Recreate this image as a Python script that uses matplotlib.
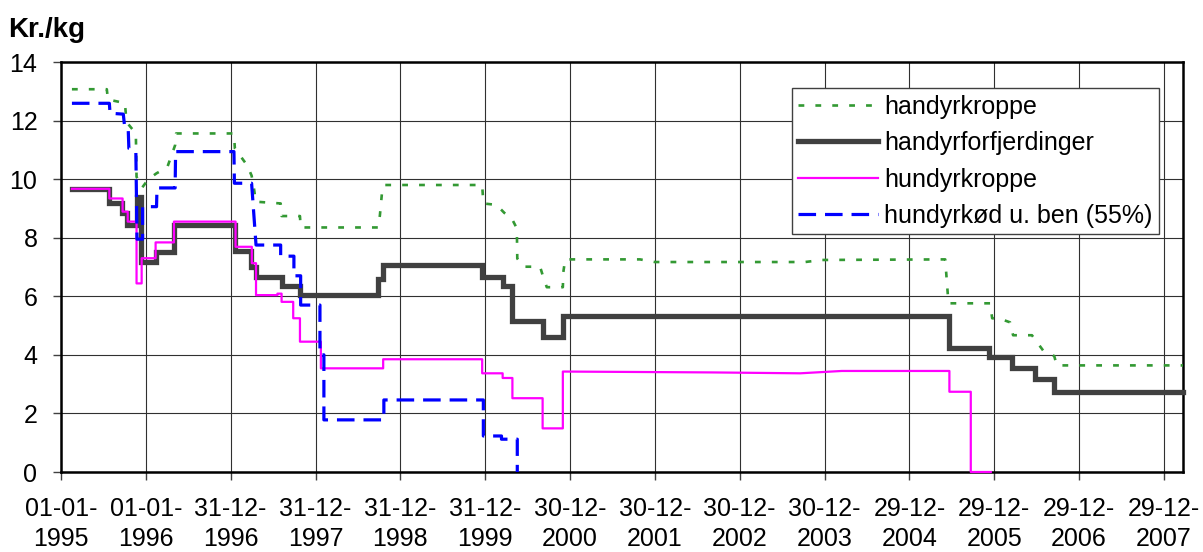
import matplotlib
matplotlib.use('Agg')
import matplotlib.pyplot as plt
import pandas as pd

plt.rcParams['font.family'] = ['Liberation Sans', 'DejaVu Sans']

# ---------------- data ----------------
series_names = ['handyrkroppe', 'handyrforfjerdinger', 'hundyrkroppe', 'hundyrkød u. ben (55%)']

handyrkroppe_dates = [
    '1995-02-17', '1995-07-17', '1995-07-22', '1995-09-19', '1995-10-03', '1995-10-07',
    '1995-10-17', '1995-11-19', '1995-11-22', '1995-12-16', '1996-01-11', '1996-02-16',
    '1996-04-02', '1996-05-06', '1996-05-10', '1997-01-14', '1997-01-18', '1997-03-12',
    '1997-03-31', '1997-04-10', '1997-04-18', '1997-08-03', '1997-08-07', '1997-10-25',
    '1997-10-28', '1998-09-27', '1998-10-04', '1998-10-14', '1998-10-21', '1999-12-18',
    '1999-12-23', '2000-02-18', '2000-03-22', '2000-04-23', '2000-05-15', '2000-05-17',
    '2000-06-12', '2000-08-23', '2000-09-06', '2000-09-21', '2000-11-29', '2000-12-01',
    '2000-12-09', '2001-10-27', '2001-12-30', '2003-10-07', '2003-12-18', '2005-06-01',
    '2005-06-15', '2005-12-11', '2005-12-20', '2006-01-31', '2006-03-07', '2006-03-20',
    '2006-06-09', '2006-07-29', '2006-09-13', '2006-09-24', '2008-03-20']
handyrkroppe_vals = [
    13.07, 13.07, 12.72, 12.62, 12.60, 12.22,
    11.88, 11.56, 10.08, 9.71, 9.99, 10.20,
    10.40, 11.16, 11.56, 11.56, 11.05, 10.47,
    10.12, 9.69, 9.23, 9.17, 8.74, 8.74,
    8.35, 8.35, 8.77, 9.63, 9.80, 9.80,
    9.17, 9.12, 8.85, 8.66, 8.32, 7.29,
    7.01, 7.01, 6.65, 6.31, 6.31, 6.82,
    7.26, 7.26, 7.17, 7.17, 7.24, 7.26,
    5.76, 5.76, 5.25, 5.21, 5.11, 4.67,
    4.67, 4.13, 3.96, 3.64, 3.64]

handyrforfj_dates = [
    '1995-02-17', '1995-07-28', '1995-07-28', '1995-09-19', '1995-09-19', '1995-10-12',
    '1995-10-12', '1995-11-22', '1995-11-22', '1995-12-12', '1995-12-12', '1996-02-14',
    '1996-02-14', '1996-05-01', '1996-05-01', '1997-01-19', '1997-01-19', '1997-03-28',
    '1997-03-28', '1997-04-19', '1997-04-19', '1997-08-07', '1997-08-07', '1997-10-25',
    '1997-10-25', '1998-09-27', '1998-09-27', '1998-10-18', '1998-10-18', '1999-12-18',
    '1999-12-18', '2000-03-15', '2000-03-15', '2000-04-26', '2000-04-26', '2000-09-03',
    '2000-09-03', '2000-11-29', '2000-11-29', '2005-06-19', '2005-06-19', '2005-12-08',
    '2005-12-08', '2006-03-15', '2006-03-15', '2006-06-23', '2006-06-23', '2006-09-10',
    '2006-09-10', '2008-03-20']
handyrforfj_vals = [
    9.65, 9.65, 9.19, 9.19, 8.83, 8.83,
    8.43, 8.43, 9.38, 9.38, 7.16, 7.16,
    7.52, 7.52, 8.42, 8.42, 7.53, 7.53,
    7.00, 7.00, 6.67, 6.67, 6.35, 6.35,
    6.04, 6.04, 6.59, 6.59, 7.07, 7.07,
    6.67, 6.67, 6.35, 6.35, 5.17, 5.17,
    4.62, 4.62, 5.33, 5.33, 4.22, 4.22,
    3.92, 3.92, 3.54, 3.54, 3.16, 3.16,
    2.74, 2.74]

hundyrkroppe_dates = [
    '1995-02-17', '1995-07-28', '1995-07-28', '1995-09-23', '1995-09-23', '1995-10-15',
    '1995-10-15', '1995-11-22', '1995-11-22', '1995-12-14', '1995-12-14', '1996-02-12',
    '1996-02-12', '1996-05-01', '1996-05-01', '1997-01-21', '1997-01-21', '1997-04-01',
    '1997-04-01', '1997-04-19', '1997-04-19', '1997-07-20', '1997-07-20', '1997-08-07',
    '1997-08-07', '1997-09-26', '1997-09-26', '1997-10-25', '1997-10-25', '1998-01-23',
    '1998-01-23', '1998-10-18', '1998-10-18', '1999-12-18', '1999-12-18', '2000-03-15',
    '2000-03-15', '2000-04-26', '2000-04-26', '2000-09-03', '2000-09-03', '2000-11-29',
    '2000-11-29', '2002-09-05', '2003-09-16', '2004-03-13', '2005-06-19', '2005-06-19',
    '2005-09-19', '2005-09-19', '2005-12-14']
hundyrkroppe_vals = [
    9.67, 9.67, 9.34, 9.34, 8.89, 8.89,
    8.55, 8.55, 6.44, 6.44, 7.30, 7.30,
    7.84, 7.84, 8.55, 8.55, 7.69, 7.69,
    7.13, 7.13, 6.04, 6.04, 6.09, 6.09,
    5.81, 5.81, 5.25, 5.25, 4.45, 4.45,
    3.54, 3.54, 3.85, 3.85, 3.37, 3.37,
    3.21, 3.21, 2.52, 2.52, 1.49, 1.49,
    3.43, 3.40, 3.37, 3.45, 3.45, 2.74,
    2.74, 0.00, 0.00]

hundyrkod_dates = [
    '1995-02-17', '1995-07-28', '1995-07-31', '1995-09-26', '1995-10-01', '1995-10-17',
    '1995-10-20', '1995-11-19', '1995-11-24', '1995-12-18', '1995-12-18', '1996-02-16',
    '1996-02-18', '1996-05-06', '1996-05-08', '1997-01-14', '1997-01-16', '1997-03-31',
    '1997-04-19', '1997-08-03', '1997-08-03', '1997-09-29', '1997-09-29', '1997-10-28',
    '1997-10-28', '1998-01-19', '1998-01-19', '1998-02-05', '1998-02-05', '1998-10-21',
    '1998-10-21', '1999-12-23', '1999-12-23', '2000-03-10', '2000-03-10', '2000-05-17',
    '2000-05-17']
hundyrkod_vals = [
    12.59, 12.59, 12.25, 12.22, 11.85, 11.75,
    11.05, 10.95, 7.95, 7.95, 9.06, 9.06,
    9.70, 9.70, 10.94, 10.94, 9.86, 9.86,
    7.75, 7.75, 7.37, 7.37, 6.70, 6.70,
    5.70, 5.70, 4.00, 4.00, 1.78, 1.78,
    2.46, 2.46, 1.23, 1.23, 1.12, 1.12,
    0.00]

tick_dates = ['1995-01-01', '1996-01-01', '1996-12-31', '1997-12-31', '1998-12-31',
              '1999-12-31', '2000-12-30', '2001-12-30', '2002-12-30', '2003-12-30',
              '2004-12-29', '2005-12-29', '2006-12-29', '2007-12-29']
x_start, x_end = '1995-01-01', '2008-03-20'
y_ticks = [0, 2, 4, 6, 8, 10, 12, 14]
y_label = 'Kr./kg'

# ---------------- figure ----------------
W, H = 1203, 552
fig = plt.figure(figsize=(W / 100, H / 100), dpi=100)
ax = fig.add_axes([61 / W, 80 / H, 1122 / W, 410 / H])

ax.plot(pd.to_datetime(handyrkroppe_dates), handyrkroppe_vals, color='#339933',
        lw=1.9, linestyle=(0, (2.2, 4.2)), label=series_names[0], zorder=3, clip_on=False)
ax.plot(pd.to_datetime(handyrforfj_dates), handyrforfj_vals, color='#404040',
        lw=3.8, solid_joinstyle='miter', label=series_names[1], zorder=3, clip_on=False)
ax.plot(pd.to_datetime(hundyrkroppe_dates), hundyrkroppe_vals, color='#FF00FF',
        lw=1.6, label=series_names[2], zorder=3, clip_on=False)
ax.plot(pd.to_datetime(hundyrkod_dates), hundyrkod_vals, color='#0000FF',
        lw=2.3, linestyle=(0, (5.5, 2.8)), label=series_names[3], zorder=3, clip_on=False)

ax.set_xlim(pd.Timestamp(x_start), pd.Timestamp(x_end))
ax.set_ylim(0, 14)
ax.set_yticks(y_ticks)
ax.set_yticklabels([str(v) for v in y_ticks])
tds = pd.to_datetime(tick_dates)
ax.set_xticks(tds)
ax.set_xticklabels([d.strftime('%d-%m-') + '\n' + d.strftime('%Y') for d in tds],
                   linespacing=1.3)

ax.grid(True, color='#303030', lw=0.8)
ax.set_axisbelow(True)
for s in ax.spines.values():
    s.set_color('black')
    s.set_linewidth(1.8)
ax.tick_params(axis='both', direction='out', length=6, width=1.0, color='#404040',
               labelsize=18)
ax.tick_params(axis='y', pad=11)
ax.tick_params(axis='x', pad=12)

fig.text(8 / W, 1 - 37 / H, y_label, fontsize=20, fontweight='bold', ha='left',
         va='baseline')

leg = ax.legend(loc='upper left', bbox_to_anchor=((791.7 - 61) / 1122, (472 - 88.3) / 410),
                borderaxespad=0, fontsize=18, handlelength=3.2, handletextpad=0.25,
                labelspacing=0.5, borderpad=0.25, fancybox=False, framealpha=1,
                edgecolor='#404040')
leg.get_frame().set_linewidth(1.0)

fig.savefig('out.png', dpi=100)
